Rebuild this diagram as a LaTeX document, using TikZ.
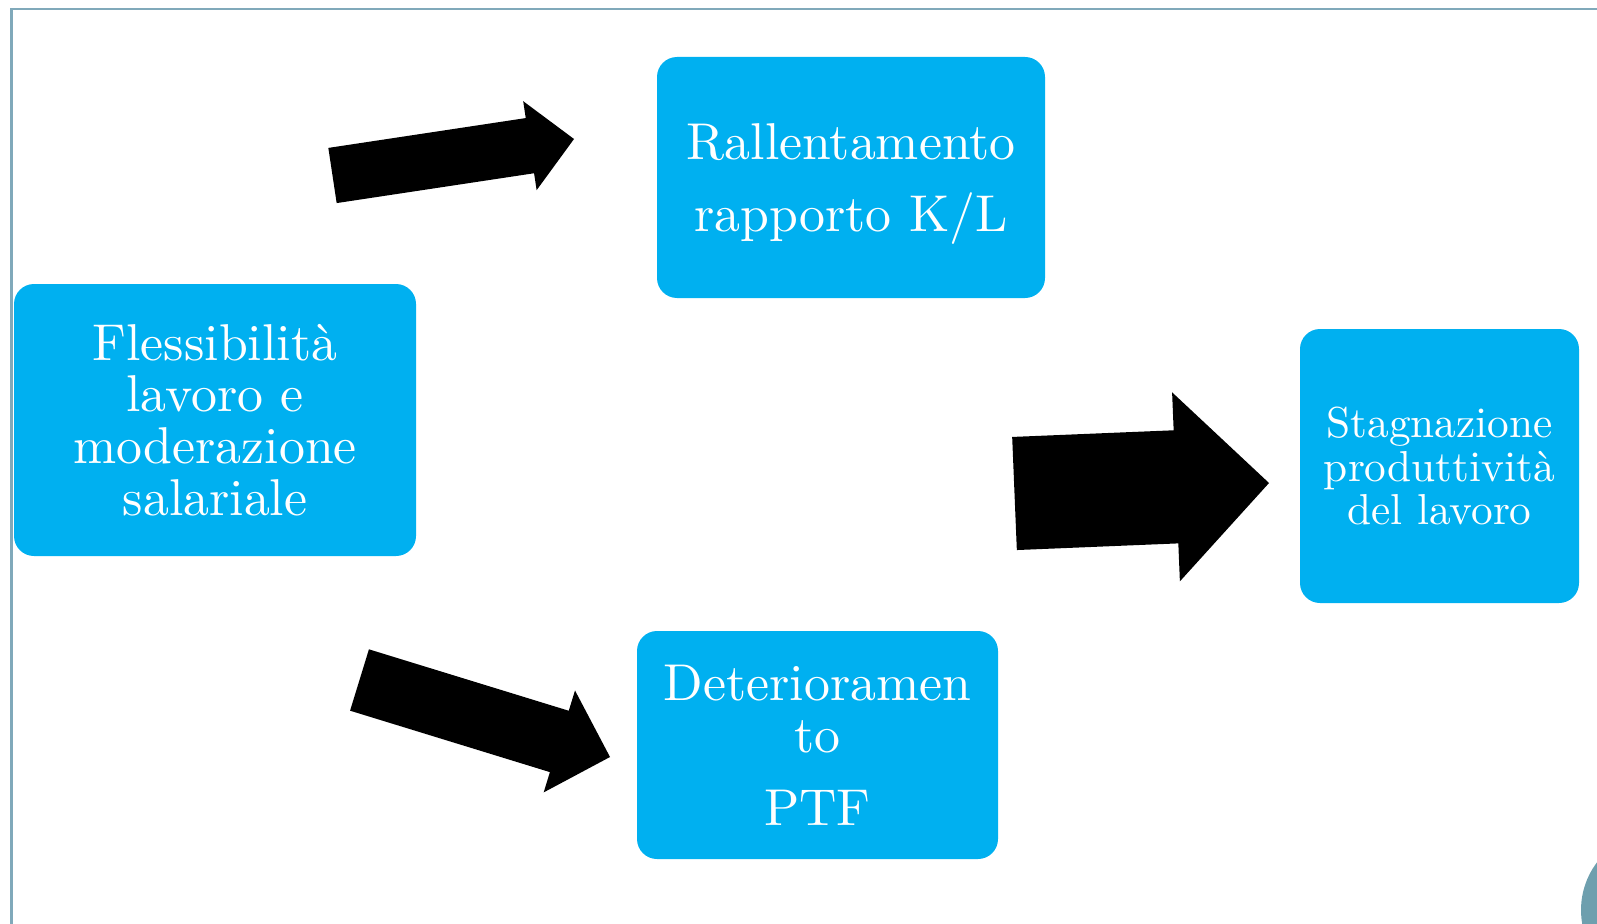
\documentclass[tikz,border=0pt]{standalone}
\usepackage{fontspec}
\setmainfont{lmroman10-regular.otf}
\usepackage{tikz}
\usetikzlibrary{calc}

\definecolor{boxblue}{HTML}{00B0F0}
\definecolor{framegray}{HTML}{80A9BA}
\definecolor{dotteal}{HTML}{6E9FAE}

% block arrow: tail, tip, shaft half width, head half width, head length
\newcommand{\blockarrow}[5]{%
  \coordinate (#1-h) at ($(#2)!#5!(#1)$);
  \fill[black] ($(#1)!#3!90:(#2)$) -- ($(#1-h)!#3!90:(#2)$) -- ($(#1-h)!#4!90:(#2)$)
    -- (#2) -- ($(#1-h)!#4!-90:(#2)$) -- ($(#1-h)!#3!-90:(#2)$) -- ($(#1)!#3!-90:(#2)$) -- cycle;}

\begin{document}
\begin{tikzpicture}[
  x=1pt, y=-1pt,
  box/.style={fill=boxblue, draw=none, rounded corners=20pt, inner sep=0pt,
              align=center, text=white},
  bigtxt/.style={box, font=\fontsize{51.8}{51.7}\selectfont},
  smalltxt/.style={box, font=\fontsize{43.3}{43.5}\selectfont},
]
\useasboundingbox (0,0) rectangle (1597,923);
\clip (0,0) rectangle (1597,923);

% --- slide frame and corner dot ---
\draw[framegray, line width=2.5pt] (11.3,940) -- (11.3,9) -- (1620,9);
\fill[dotteal] (1660,910) circle (79pt);

% --- boxes ---
\node[bigtxt, minimum width=402pt, minimum height=272pt] (flex) at (215,420)
  {Flessibilità\\lavoro e\\moderazione\\salariale};
\node[bigtxt, minimum width=388pt, minimum height=241pt, text depth=0pt] (rallent) at (851,177.5)
  {Rallentamento\\[20.3pt]rapporto K/L};
\node[bigtxt, minimum width=361pt, minimum height=228pt] (deter) at (817.5,745)
  {Deterioramen\\to\\[21.3pt]PTF};
\node[smalltxt, minimum width=279pt, minimum height=274pt] (stagn) at (1439.5,466)
  {Stagnazione\\produttività\\del lavoro};

% --- block arrows ---
\coordinate (up-s) at (332.5,175.5);
\coordinate (up-e) at (574,139);
\coordinate (dn-s) at (359.5,680);
\coordinate (dn-e) at (610,757);
\coordinate (rt-s) at (1014.5,493.5);
\coordinate (rt-e) at (1269,483);
\blockarrow{up-s}{up-e}{27.9pt}{45pt}{44.6pt}
\blockarrow{dn-s}{dn-e}{32.1pt}{53.3pt}{53pt}
\blockarrow{rt-s}{rt-e}{56.6pt}{94.6pt}{93.1pt}

\end{tikzpicture}
\end{document}
